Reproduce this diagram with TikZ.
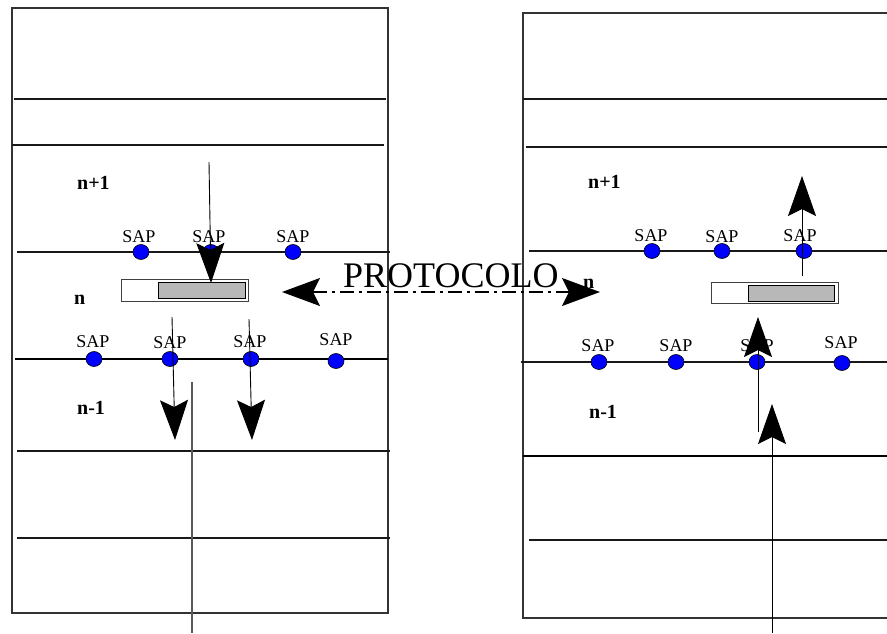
\documentclass[tikz,border=0pt]{standalone}
\usepackage{fontspec}
\setmainfont{Liberation Serif}
\usetikzlibrary{arrows.meta,shapes.geometric}
\definecolor{bufgray}{RGB}{184,184,184}
\tikzset{
  frame/.style={draw=black!80, line width=1.1pt},
  sep/.style={draw=black!90, line width=1.1pt},
  thicksep/.style={draw=black, line width=2pt},
  sapdot/.style={ellipse, draw=black, fill=blue, minimum width=16pt, minimum height=15pt, inner sep=0pt, line width=0.6pt},
  saplbl/.style={font=\fontsize{18}{18}\selectfont, inner sep=0pt, anchor=south},
  lyr/.style={font=\bfseries\fontsize{20}{20}\selectfont, inner sep=0pt, anchor=base west},
  bigarrow/.style={-{Stealth[length=40pt,width=28pt,inset=7pt]}, line width=0.9pt, draw=black},
  bufout/.style={draw=black!75, fill=white, line width=0.9pt},
  bufin/.style={draw=black, fill=bufgray, line width=0.9pt},
  guide/.style={draw=black!65, line width=1.1pt}
}
\begin{document}
\begin{tikzpicture}[x=1pt,y=-1pt]
\useasboundingbox (0,0) rectangle (887,633);
% ---------- left stack ----------
\draw[frame] (12,8) rectangle (388,613);
\draw[sep] (14,99) -- (386,99);
\draw[sep] (12,145) -- (384,145);
\draw[sep] (17,252) -- (390,252);
\draw[thicksep] (15,359) -- (388,359);
\draw[sep] (17,451) -- (390,451);
\draw[sep] (17,538) -- (390,538);
\draw[guide] (192,382) -- (192,633);
% buffer left
\draw[bufout] (121,279) rectangle (248,301);
\draw[bufin] (158,282) rectangle (245,298);
% SAPs left
\node[sapdot] (lu1) at (141,252) {};
\node[sapdot] (lu2) at (211,252) {};
\node[sapdot] (lu3) at (293,252) {};
\node[saplbl] (lu1t) at (139,243) {SAP};
\node[saplbl] (lu2t) at (209,243) {SAP};
\node[saplbl] (lu3t) at (293,243) {SAP};
\node[sapdot] (ll1) at (94,359) {};
\node[sapdot] (ll2) at (170,359) {};
\node[sapdot] (ll3) at (251,359) {};
\node[sapdot] (ll4) at (336,361) {};
\node[saplbl] (ll1t) at (93,348) {SAP};
\node[saplbl] (ll2t) at (170,349) {SAP};
\node[saplbl] (ll3t) at (250,348) {SAP};
\node[saplbl] (ll4t) at (336,346) {SAP};
\node[lyr] (lnp) at (77,189) {n+1};
\node[lyr] (ln) at (74,304) {n};
\node[lyr] (lnm) at (77,414) {n-1};
% ---------- right stack ----------
\draw[frame] (887,13) -- (523,13) -- (523,618) -- (887,618);
\draw[sep] (523,99) -- (887,99);
\draw[sep] (526,147) -- (887,147);
\draw[sep] (529,251) -- (887,251);
\draw[sep] (521,362) -- (887,362);
\draw[thicksep] (523,456) -- (887,456);
\draw[sep] (529,540) -- (887,540);
% buffer right
\draw[bufout] (711,282) rectangle (838,303);
\draw[bufin] (748,285) rectangle (834,301);
% SAPs right
\node[sapdot] (ru1) at (652,251) {};
\node[sapdot] (ru2) at (722,251) {};
\node[sapdot] (ru3) at (804,251) {};
\node[saplbl] (ru1t) at (651,242) {SAP};
\node[saplbl] (ru2t) at (722,243) {SAP};
\node[saplbl] (ru3t) at (800,242) {SAP};
\node[sapdot] (rl1) at (599,362) {};
\node[sapdot] (rl2) at (676,362) {};
\node[sapdot] (rl3) at (757,362) {};
\node[sapdot] (rl4) at (842,363) {};
\node[saplbl] (rl1t) at (598,352) {SAP};
\node[saplbl] (rl2t) at (676,352) {SAP};
\node[saplbl] (rl3t) at (757,352) {SAP};
\node[saplbl] (rl4t) at (841,349) {SAP};
\node[lyr] (rnp) at (588,188) {n+1};
\node[lyr] (rn) at (583,288) {n};
\node[lyr] (rnm) at (589,418) {n-1};
% ---------- protocol ----------
\node[font=\fontsize{36}{36}\selectfont, inner sep=0pt, anchor=base west] (proto) at (343,287) {PROTOCOLO};
\coordinate (pl) at (282,292);
\coordinate (pr) at (600,292);
\draw[{Stealth[length=38pt,width=28pt,inset=7pt]}-{Stealth[length=38pt,width=28pt,inset=7pt]}, line width=1.5pt, dash pattern=on 14pt off 5pt on 3pt off 5pt] (pl) -- (pr);
% ---------- flow arrows ----------
\coordinate (a1s) at (209,162); \coordinate (a1e) at (211,283);
\coordinate (a2s) at (172,317); \coordinate (a2e) at (175,440);
\coordinate (a3s) at (249,319); \coordinate (a3e) at (252,440);
\coordinate (b1s) at (802,276); \coordinate (b1e) at (802,176);
\coordinate (b2s) at (758,432); \coordinate (b2e) at (758,317);
\coordinate (b3s) at (772,633); \coordinate (b3e) at (772,404);
\draw[bigarrow] (a1s) -- (a1e);
\draw[bigarrow] (a2s) -- (a2e);
\draw[bigarrow] (a3s) -- (a3e);
\draw[bigarrow] (b1s) -- (b1e);
\draw[bigarrow] (b2s) -- (b2e);
\draw[bigarrow] (b3s) -- (b3e);
\end{tikzpicture}
\end{document}
